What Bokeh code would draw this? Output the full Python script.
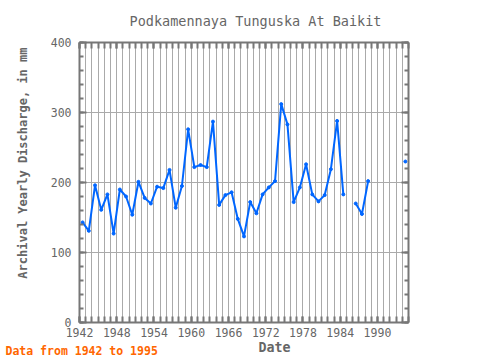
import math
from bokeh.plotting import figure
from bokeh.models import Range1d, LinearAxis, FixedTicker, SingleIntervalTicker, Title, ColumnDataSource
from bokeh.embed import file_html
from bokeh.resources import INLINE

nan = float("nan")

title_text = "Podkamennaya Tunguska At Baikit"
x_label = "Date"
y_label = "Archival Yearly Discharge, in mm"
note_text = "Data from 1942 to 1995"

years = list(range(1942, 1995))
discharge = [143, 131, 196, 161, 183, 127, 190, 180, 154, 201,
             178, 170, 194, 192, 218, 164, 195, 276, 222, 225,
             222, 287, 168, 182, 186, 148, 123, 172, 156, 183,
             193, 202, 312, 283, 172, 193, 226, 183, 173, 182,
             219, 288, 183, nan, 170, 155, 202, nan, nan, nan,
             nan, nan, 230]

x_major_ticks = [1942, 1948, 1954, 1960, 1966, 1972, 1978, 1984, 1990]
x_minor_ticks = list(range(1942, 1996))

FONT = "DejaVu Sans Mono"
GREY = "#666666"
FRAME = "#777777"
LINE = "#0066ff"

src = ColumnDataSource(dict(x=[y + 0.5 for y in years], y=discharge))

p = figure(width=480, height=360, output_backend="svg", toolbar_location=None,
           x_range=Range1d(1942, 1995), y_range=Range1d(0, 400),
           min_border_left=79, min_border_right=72, min_border_top=42, min_border_bottom=38,
           x_axis_location=None, y_axis_location=None)
p.outline_line_color = None
p.background_fill_color = "white"
p.border_fill_color = "white"

xt = FixedTicker(ticks=x_major_ticks, minor_ticks=x_minor_ticks)
yt = SingleIntervalTicker(interval=100, num_minor_ticks=5)

def style_axis(ax, labels, xdir):
    ax.axis_line_color = FRAME
    ax.axis_line_width = 2
    ax.major_tick_line_color = FRAME
    ax.minor_tick_line_color = FRAME
    ax.major_tick_line_width = 2
    ax.minor_tick_line_width = 2
    ax.major_tick_out = 0
    ax.minor_tick_out = 0
    if xdir:
        ax.major_tick_in = 6
        ax.minor_tick_in = 6
    else:
        ax.major_tick_in = 7
        ax.minor_tick_in = 4
    ax.major_label_text_font = FONT
    ax.major_label_text_font_size = "11.5px" if labels else "1px"
    ax.major_label_text_color = GREY if labels else None
    ax.major_label_standoff = 5 if labels else 0

bottom = LinearAxis(ticker=xt)
top = LinearAxis(ticker=xt)
left = LinearAxis(ticker=yt)
right = LinearAxis(ticker=yt)
style_axis(bottom, True, True)
style_axis(top, False, True)
style_axis(left, True, False)
style_axis(right, False, False)
left.major_label_standoff = 8

p.add_layout(bottom, "below")
p.add_layout(top, "above")
p.add_layout(left, "left")
p.add_layout(right, "right")

p.xgrid.ticker = xt
p.ygrid.ticker = yt
p.xgrid.grid_line_color = "#aaaaaa"
p.xgrid.minor_grid_line_color = "#aaaaaa"
p.ygrid.grid_line_color = "#aaaaaa"
p.xgrid.grid_line_width = 1
p.ygrid.grid_line_width = 1

p.line("x", "y", source=src, line_color=LINE, line_width=2)
p.scatter("x", "y", source=src, size=3, fill_color=LINE, line_color=LINE)

p.title = Title(text=title_text, align="left", offset=50, standoff=24, vertical_align="top",
                text_font=FONT, text_font_size="13.5px", text_color=GREY,
                text_font_style="normal")
p.add_layout(Title(text=y_label, align="right", offset=5, standoff=31, vertical_align="top",
                   text_font=FONT, text_font_size="12px", text_color=GREY,
                   text_font_style="bold"), "left")
p.add_layout(Title(text=x_label, align="left", offset=179, standoff=0, vertical_align="top",
                   text_font=FONT, text_font_size="13.3px", text_color=GREY,
                   text_font_style="bold"), "below")
p.add_layout(Title(text=note_text, align="left", offset=-74, standoff=-25, vertical_align="top",
                   text_font=FONT, text_font_size="11.5px", text_color="#ff6600",
                   text_font_style="bold"), "below")

open("out.html", "w").write(file_html(p, INLINE))
